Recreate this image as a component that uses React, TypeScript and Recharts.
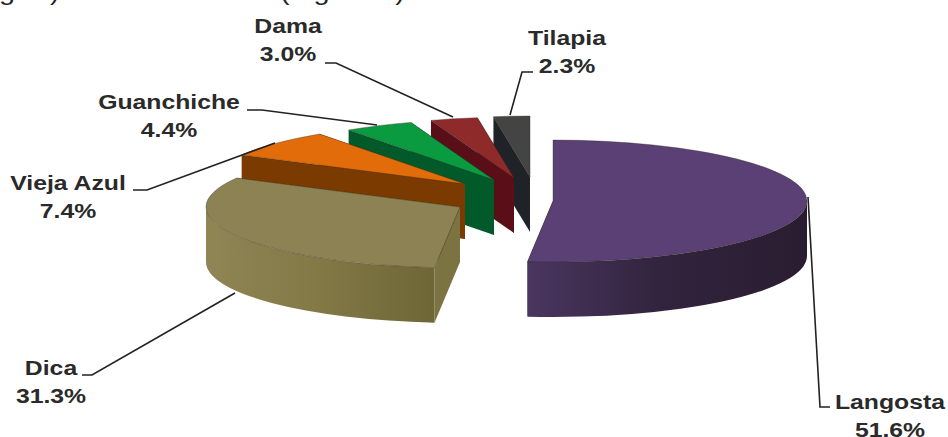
import { PieChart, Pie } from "recharts";

const categories = ["Tilapia", "Dama", "Guanchiche", "Vieja Azul", "Dica", "Langosta"];
const shares = [2.3, 3.0, 4.4, 7.4, 31.3, 51.6];

const rows = categories.map((name, i) => ({ name, value: shares[i] }));

const topColors = ["#444444", "#8f2a2a", "#0a9a40", "#e36c0a", "#8c8253", "#5a4075"];
const cutColors = ["#1f2328", "#5a0f18", "#02592a", "#7b3a00", "#7c7342", "#3a2a4a"];
const rimColors = [
  ["#1f2328", "#1f2328", "#1f2328"],
  ["#5a0f18", "#5a0f18", "#5a0f18"],
  ["#02592a", "#02592a", "#02592a"],
  ["#7b3a00", "#7b3a00", "#7b3a00"],
  ["#8f8555", "#847a48", "#6f6636"],
  ["#4a3660", "#33243f", "#2a1c30"],
];

// each slice is pulled out of the pie by hand
const explode = [
  [-3, -13],
  [-19, -12],
  [-39, -10],
  [-68, -6],
  [-73, 17],
  [20, 11],
];

const leaders = [
  "533,72 522,72 510,115",
  "325,63 336,63 453,117",
  "247,110 262,110 377,125",
  "133,190 147,190 275,143",
  "82,375 92,375 235,293",
  "808,197 820,407 830,407",
];
const labelPos = [
  [567, 45],
  [288, 33],
  [169, 109],
  [68, 190],
  [51, 375],
  [890, 409],
];

const SQUASH = 0.24;
const DEPTH = 55;
const STRETCH = 1.18;

function Wedge(props: any) {
  const { cx, cy, outerRadius, startAngle, endAngle, name } = props;
  const i = categories.indexOf(name);
  const x0 = cx + explode[i][0];
  const y0 = cy + explode[i][1];
  const rx = outerRadius;
  const ry = outerRadius * SQUASH;
  const pt = (a: number) => {
    const r = (a * Math.PI) / 180;
    return [x0 + rx * Math.cos(r), y0 - ry * Math.sin(r)];
  };
  const [sx, sy] = pt(startAngle);
  const [ex, ey] = pt(endAngle);
  const large = endAngle - startAngle > 180 ? 1 : 0;

  const top = `M${x0} ${y0}L${sx} ${sy}A${rx} ${ry} 0 ${large} 0 ${ex} ${ey}Z`;
  const cut = (x: number, y: number) =>
    `M${x0} ${y0}L${x} ${y}L${x} ${y + DEPTH}L${x0} ${y0 + DEPTH}Z`;

  // only the front half of the rim can be seen
  const rimFrom = Math.max(startAngle, 180);
  const rimTo = Math.min(endAngle, 360);
  let rim = null;
  if (rimTo > rimFrom) {
    const [ax, ay] = pt(rimFrom);
    const [bx, by] = pt(rimTo);
    const d =
      `M${ax} ${ay}A${rx} ${ry} 0 0 0 ${bx} ${by}` +
      `L${bx} ${by + DEPTH}A${rx} ${ry} 0 0 1 ${ax} ${ay + DEPTH}Z`;
    rim = (
      <>
        <defs>
          <linearGradient id={`rim${i}`} x1="0" y1="0" x2="1" y2="0">
            <stop offset="0" stopColor={rimColors[i][0]} />
            <stop offset="0.45" stopColor={rimColors[i][1]} />
            <stop offset="1" stopColor={rimColors[i][2]} />
          </linearGradient>
        </defs>
        <path d={d} fill={`url(#rim${i})`} />
      </>
    );
  }

  return (
    <g>
      <path d={cut(ex, ey)} fill={cutColors[i]} />
      <path d={cut(sx, sy)} fill={cutColors[i]} />
      {rim}
      <path d={top} fill={topColors[i]} stroke="#2b2416" strokeOpacity={0.35} strokeWidth={1} />
    </g>
  );
}

function Callout(props: any) {
  const { index, name, value } = props;
  const [x, y] = labelPos[index];
  return (
    <g>
      <polyline points={leaders[index]} fill="none" stroke="#222" strokeWidth={1.6} />
      <g transform={`translate(${x} ${y}) scale(${STRETCH} 1)`}>
        <text textAnchor="middle" fontFamily="Liberation Sans" fontWeight="bold" fontSize={21} fill="#2a2a2a">
          <tspan x={0} y={0}>{name}</tspan>
          <tspan x={0} y={28}>{value.toFixed(1)}%</tspan>
        </text>
      </g>
    </g>
  );
}

export default function App() {
  return (
    <div style={{ position: "absolute", left: 0, top: 0, width: 948, height: 437, background: "#fff", overflow: "hidden" }}>
      <PieChart width={948} height={437} margin={{ top: 0, right: 0, bottom: 0, left: 0 }}>
        <text transform={`translate(-1 0) scale(1.2 1)`} fontFamily="Liberation Sans" fontSize={24} fill="#222">g</text>
        <text transform={`translate(50 0) scale(1.2 1)`} fontFamily="Liberation Sans" fontSize={24} fill="#222">)</text>
        <text transform={`translate(280 0) scale(1.2 1)`} fontFamily="Liberation Sans" fontSize={24} fill="#222">(Figura 2)</text>
        <Pie
          data={rows}
          dataKey="value"
          nameKey="name"
          cx={533}
          cy={190}
          outerRadius={254}
          startAngle={90}
          endAngle={450}
          paddingAngle={0}
          stroke="none"
          shape={Wedge}
          label={Callout}
          labelLine={false}
          isAnimationActive={false}
        />
      </PieChart>
    </div>
  );
}
